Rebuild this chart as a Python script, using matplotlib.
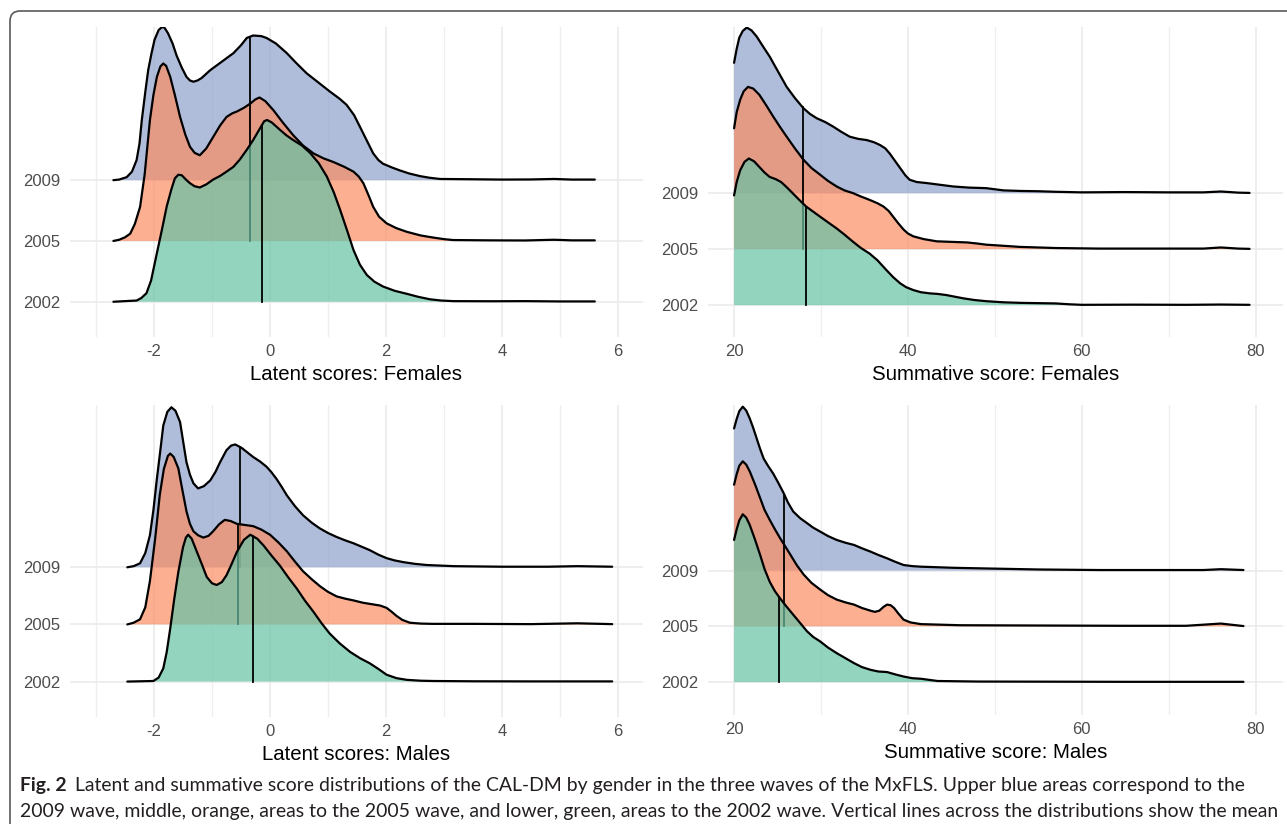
import matplotlib
matplotlib.use("Agg")
import matplotlib.pyplot as plt
import numpy as np
from matplotlib.patches import FancyBboxPatch

# waves shown in each panel, bottom to top
years = ["2002", "2005", "2009"]
fill_colors = ["#66C2A5", "#FC8D62", "#8DA0CB"]

# ---- Latent scores: Females (heights in ridge-row units) ----
lf_x09 = [-2.70, -2.60, -2.47, -2.38, -2.30, -2.25, -2.21, -2.15, -2.10, -2.04, -1.99, -1.92, -1.86, -1.82,
          -1.76, -1.68, -1.61, -1.52, -1.44, -1.38, -1.32, -1.25, -1.18, -1.03, -0.83, -0.63, -0.50, -0.40,
          -0.29, -0.15, -0.06, 0.10, 0.29, 0.45, 0.63, 0.83, 1.03, 1.20, 1.32, 1.45, 1.55, 1.67, 1.78, 1.87,
          1.95, 2.10, 2.24, 2.40, 2.59, 2.75, 2.93, 3.5, 4.0, 4.5, 4.9, 5.2, 5.6]
lf_h09 = [0, 0.01, 0.05, 0.14, 0.33, 0.60, 0.99, 1.45, 1.81, 2.10, 2.31, 2.47, 2.52, 2.51,
          2.42, 2.25, 2.05, 1.85, 1.70, 1.64, 1.62, 1.64, 1.68, 1.81, 1.95, 2.09, 2.22, 2.34,
          2.38, 2.37, 2.34, 2.25, 2.09, 1.93, 1.76, 1.61, 1.46, 1.34, 1.24, 1.07, 0.88, 0.65, 0.44, 0.33,
          0.27, 0.21, 0.16, 0.11, 0.066, 0.04, 0.02, 0.015, 0.01, 0.012, 0.02, 0.01, 0.01]
lf_x05 = [-2.70, -2.60, -2.50, -2.41, -2.33, -2.24, -2.16, -2.07, -2.01, -1.95, -1.89, -1.84, -1.79, -1.72,
          -1.64, -1.55, -1.46, -1.38, -1.30, -1.21, -1.10, -0.98, -0.86, -0.75, -0.65, -0.57, -0.45, -0.34,
          -0.25, -0.18, -0.08, 0.06, 0.22, 0.40, 0.57, 0.75, 0.92, 1.09, 1.28, 1.44, 1.53, 1.61, 1.70, 1.78,
          1.88, 2.01, 2.18, 2.36, 2.60, 2.82, 3.00, 3.16, 3.8, 4.4, 4.9, 5.2, 5.6]
lf_h05 = [0, 0.02, 0.06, 0.12, 0.28, 0.56, 1.10, 1.99, 2.40, 2.70, 2.87, 2.92, 2.88, 2.70,
          2.40, 2.04, 1.75, 1.55, 1.45, 1.41, 1.52, 1.71, 1.90, 2.04, 2.10, 2.13, 2.19, 2.26,
          2.33, 2.36, 2.30, 2.15, 1.95, 1.74, 1.57, 1.44, 1.36, 1.30, 1.22, 1.14, 1.06, 0.95, 0.75, 0.56,
          0.40, 0.29, 0.21, 0.15, 0.09, 0.055, 0.03, 0.015, 0.01, 0.008, 0.02, 0.01, 0.01]
lf_x02 = [-2.70, -2.30, -2.22, -2.13, -2.05, -1.95, -1.86, -1.78, -1.70, -1.64, -1.58, -1.52, -1.45, -1.38,
          -1.30, -1.21, -1.10, -0.98, -0.86, -0.75, -0.63, -0.52, -0.40, -0.29, -0.18, -0.10, -0.05, 0.03,
          0.17, 0.28, 0.40, 0.55, 0.69, 0.84, 0.98, 1.10, 1.21, 1.33, 1.44, 1.55, 1.67, 1.80, 1.95, 2.15,
          2.36, 2.56, 2.76, 2.95, 3.16, 3.8, 4.4, 5.0, 5.6]
lf_h02 = [0, 0.02, 0.06, 0.14, 0.35, 0.80, 1.20, 1.57, 1.85, 2.03, 2.09, 2.08, 2.01, 1.95,
          1.90, 1.88, 1.93, 2.01, 2.07, 2.14, 2.22, 2.34, 2.50, 2.66, 2.84, 2.97, 2.99, 2.95,
          2.83, 2.74, 2.66, 2.57, 2.45, 2.28, 2.06, 1.80, 1.51, 1.17, 0.85, 0.61, 0.44, 0.33, 0.25, 0.18,
          0.13, 0.08, 0.04, 0.02, 0.01, 0.008, 0.01, 0.005, 0.005]
lf_means = [-0.14, -0.35, -0.34]

# ---- Summative score: Females ----
sf_x09 = [20, 20.3, 20.6, 21.0, 21.46, 22.0, 22.6, 23.3, 24.1, 25.0, 26.05, 27.0, 27.97, 28.7, 29.5, 30.5,
          31.4, 32.3, 33.3, 34.3, 35.25, 36.1, 36.8, 37.4, 37.9, 38.5, 39.1, 39.7, 40.2, 41.0, 42.2, 43.7,
          45.2, 47, 49.0, 50, 51.0, 53, 55, 57, 60, 65, 70, 74, 76, 78, 79.3]
sf_h09 = [2.33, 2.58, 2.78, 2.90, 2.96, 2.91, 2.80, 2.63, 2.44, 2.19, 1.90, 1.70, 1.52, 1.42, 1.34, 1.27,
          1.19, 1.10, 1.01, 0.97, 0.95, 0.91, 0.86, 0.80, 0.71, 0.58, 0.45, 0.32, 0.24, 0.20, 0.18, 0.15,
          0.12, 0.10, 0.09, 0.07, 0.05, 0.04, 0.035, 0.025, 0.015, 0.02, 0.015, 0.015, 0.03, 0.01, 0.005]
sf_x05 = [20, 20.3, 20.7, 21.1, 21.6, 22.2, 22.9, 23.7, 24.5, 25.3, 26.05, 27.0, 27.97, 28.9, 29.9, 30.8,
          31.8, 32.7, 33.7, 34.6, 35.6, 36.5, 37.2, 37.8, 38.3, 38.9, 39.5, 40.0, 40.6, 41.8, 43.3, 45,
          46.8, 48, 49.0, 51, 52.9, 55, 57, 62, 68, 74, 76, 78, 79.3]
sf_h05 = [2.16, 2.45, 2.67, 2.82, 2.90, 2.87, 2.76, 2.57, 2.37, 2.18, 2.01, 1.80, 1.60, 1.45, 1.33, 1.22,
          1.12, 1.05, 1.0, 0.94, 0.88, 0.82, 0.76, 0.68, 0.58, 0.46, 0.35, 0.28, 0.23, 0.18, 0.14, 0.13,
          0.12, 0.10, 0.08, 0.06, 0.04, 0.03, 0.02, 0.01, 0.01, 0.01, 0.03, 0.01, 0.005]
sf_x02 = [20, 20.3, 20.7, 21.2, 21.7, 22.3, 22.9, 23.5, 24.1, 24.8, 25.4, 26.1, 26.8, 27.5, 28.3, 29.1,
          29.9, 30.8, 31.8, 32.7, 33.7, 34.6, 35.6, 36.5, 37.5, 38.3, 39.1, 39.8, 40.6, 41.5, 42.5, 43.4,
          44.4, 45.4, 46.4, 47.7, 49.0, 51, 53, 55, 57, 58.5, 60, 66, 72, 76, 79.3]
sf_h02 = [1.96, 2.20, 2.41, 2.56, 2.62, 2.57, 2.47, 2.37, 2.29, 2.25, 2.20, 2.10, 1.99, 1.88, 1.76, 1.67,
          1.58, 1.48, 1.37, 1.26, 1.13, 1.02, 0.92, 0.80, 0.63, 0.50, 0.39, 0.32, 0.27, 0.23, 0.21, 0.20,
          0.18, 0.15, 0.12, 0.09, 0.07, 0.05, 0.04, 0.035, 0.03, 0.015, 0.005, 0.008, 0.005, 0.01, 0.005]
sf_means = [28.3, 27.9, 27.9]

# ---- Latent scores: Males ----
lm_x09 = [-2.46, -2.35, -2.24, -2.15, -2.07, -2.01, -1.95, -1.89, -1.84, -1.77, -1.70, -1.63, -1.55, -1.50,
          -1.44, -1.38, -1.32, -1.24, -1.14, -1.03, -0.94, -0.86, -0.75, -0.67, -0.60, -0.49, -0.39, -0.29,
          -0.17, -0.06, 0.02, 0.11, 0.20, 0.29, 0.43, 0.57, 0.72, 0.86, 1.00, 1.15, 1.30, 1.44, 1.58, 1.72,
          1.87, 2.01, 2.15, 2.30, 2.50, 2.70, 2.93, 3.16, 4.0, 4.8, 5.3, 5.9]
lm_h09 = [0, 0.02, 0.07, 0.25, 0.56, 1.00, 1.55, 2.05, 2.48, 2.72, 2.80, 2.74, 2.54, 2.22,
          1.84, 1.62, 1.47, 1.38, 1.42, 1.52, 1.67, 1.84, 2.05, 2.13, 2.15, 2.09, 2.01, 1.93,
          1.85, 1.76, 1.67, 1.55, 1.41, 1.26, 1.07, 0.91, 0.78, 0.68, 0.60, 0.53, 0.47, 0.42, 0.36, 0.30,
          0.22, 0.16, 0.12, 0.09, 0.06, 0.04, 0.03, 0.02, 0.01, 0.01, 0.02, 0.01]
lm_x05 = [-2.46, -2.35, -2.24, -2.15, -2.07, -1.98, -1.90, -1.83, -1.76, -1.72, -1.66, -1.58, -1.51, -1.44,
          -1.38, -1.32, -1.24, -1.15, -1.06, -0.98, -0.88, -0.78, -0.68, -0.57, -0.43, -0.29, -0.15, 0,
          0.15, 0.29, 0.43, 0.57, 0.72, 0.86, 1.00, 1.15, 1.30, 1.44, 1.60, 1.78, 1.90, 2.01, 2.10, 2.18,
          2.28, 2.41, 2.6, 2.8, 3.5, 4.5, 5.3, 5.9]
lm_h05 = [0, 0.03, 0.09, 0.30, 0.76, 1.50, 2.27, 2.72, 2.95, 2.99, 2.93, 2.73, 2.35, 1.98,
          1.76, 1.63, 1.56, 1.52, 1.55, 1.63, 1.75, 1.83, 1.81, 1.76, 1.74, 1.72, 1.66, 1.57,
          1.43, 1.28, 1.10, 0.93, 0.79, 0.67, 0.57, 0.49, 0.45, 0.42, 0.38, 0.35, 0.33, 0.29, 0.22, 0.15,
          0.08, 0.03, 0.015, 0.01, 0.01, 0.005, 0.02, 0.005]
lm_x02 = [-2.46, -2.01, -1.92, -1.84, -1.78, -1.72, -1.65, -1.58, -1.50, -1.45, -1.41, -1.35, -1.26, -1.17,
          -1.09, -1.00, -0.92, -0.83, -0.75, -0.66, -0.57, -0.45, -0.34, -0.22, -0.11, 0.03, 0.17, 0.31,
          0.46, 0.60, 0.75, 0.89, 1.03, 1.20, 1.38, 1.55, 1.72, 1.87, 2.01, 2.18, 2.36, 2.6, 2.82, 3.5,
          4.5, 5.9]
lm_h02 = [0, 0.01, 0.07, 0.23, 0.52, 0.93, 1.45, 1.92, 2.35, 2.52, 2.57, 2.50, 2.27, 2.04,
          1.83, 1.72, 1.69, 1.74, 1.86, 2.06, 2.27, 2.48, 2.57, 2.50, 2.38, 2.20, 2.03, 1.83,
          1.63, 1.42, 1.22, 1.02, 0.84, 0.67, 0.52, 0.41, 0.32, 0.22, 0.12, 0.06, 0.03, 0.015, 0.01, 0.005,
          0.003, 0.003]
lm_means = [-0.30, -0.56, -0.51]

# ---- Summative score: Males ----
sm_x09 = [20, 20.3, 20.6, 21.0, 21.4, 21.8, 22.2, 22.6, 23.0, 23.4, 23.9, 24.5, 25.1, 25.7, 26.2, 26.8,
          27.6, 28.4, 29.1, 29.9, 30.8, 31.8, 32.8, 33.8, 34.7, 35.7, 36.6, 37.6, 38.5, 39.5, 40.5, 41.5,
          45.3, 48.4, 55, 62, 70, 74, 76, 78.6]
sm_h09 = [2.55, 2.72, 2.86, 2.94, 2.87, 2.73, 2.56, 2.37, 2.18, 2.01, 1.88, 1.74, 1.57, 1.39, 1.22, 1.06,
          0.94, 0.85, 0.77, 0.70, 0.62, 0.55, 0.50, 0.46, 0.40, 0.34, 0.28, 0.22, 0.16, 0.10, 0.08, 0.07,
          0.05, 0.04, 0.02, 0.01, 0.01, 0.01, 0.025, 0.01]
sm_x05 = [20, 20.3, 20.6, 21.0, 21.4, 21.8, 22.4, 23.0, 23.5, 24.1, 24.7, 25.3, 25.9, 26.5, 27.2, 28.0,
          28.9, 29.9, 30.8, 31.8, 32.8, 33.8, 34.7, 35.7, 36.2, 36.7, 37.2, 37.6, 38.0, 38.4, 38.9, 39.5,
          40.3, 41.5, 46, 55, 65, 72, 76, 78.6]
sm_h05 = [2.54, 2.73, 2.88, 2.96, 2.90, 2.78, 2.55, 2.30, 2.09, 1.91, 1.74, 1.58, 1.43, 1.28, 1.10, 0.93,
          0.78, 0.66, 0.56, 0.48, 0.43, 0.39, 0.33, 0.28, 0.26, 0.28, 0.35, 0.39, 0.38, 0.33, 0.23, 0.12,
          0.07, 0.04, 0.02, 0.015, 0.01, 0.01, 0.05, 0.005]
sm_x02 = [20, 20.3, 20.6, 21.0, 21.4, 21.8, 22.4, 23.0, 23.5, 24.1, 24.7, 25.3, 26.0, 26.8, 27.6, 28.4,
          29.1, 29.9, 30.8, 31.8, 32.8, 33.8, 34.7, 35.7, 36.6, 37.6, 38.5, 39.5, 40.5, 41.5, 43.4, 48,
          55, 65, 78.6]
sm_h02 = [2.55, 2.74, 2.90, 3.01, 2.95, 2.82, 2.56, 2.28, 2.03, 1.80, 1.63, 1.50, 1.36, 1.21, 1.06, 0.91,
          0.81, 0.73, 0.62, 0.52, 0.43, 0.34, 0.27, 0.22, 0.19, 0.18, 0.14, 0.10, 0.07, 0.06, 0.02, 0.01,
          0.008, 0.005, 0.005]
sm_means = [25.2, 25.8, 25.8]

latent_ticks = [-2, 0, 2, 4, 6]
latent_minor = [-3, -1, 1, 3, 5]
summ_ticks = [20, 40, 60, 80]
summ_minor = [30, 50, 70]

caption_1 = ("Latent and summative score distributions of the CAL-DM by gender in the three waves of the MxFLS. "
             "Upper blue areas correspond to the")
caption_2 = ("2009 wave, middle, orange, areas to the 2005 wave, and lower, green, areas to the 2002 wave. "
             "Vertical lines across the distributions show the mean")

panels = [
    # data, means, xlabel, ticks, minor, xlim, ylim, rect (px: left, top, right, bottom)
    ([(lf_x02, lf_h02), (lf_x05, lf_h05), (lf_x09, lf_h09)], lf_means, "Latent scores: Females",
     latent_ticks, latent_minor, (-3.448, 6.431), (0.42, 5.52), (70, 27, 643, 337)),
    ([(sf_x02, sf_h02), (sf_x05, sf_h05), (sf_x09, sf_h09)], sf_means, "Summative score: Females",
     summ_ticks, summ_minor, (17.0, 83.15), (0.43, 5.97), (708, 27, 1283, 337)),
    ([(lm_x02, lm_h02), (lm_x05, lm_h05), (lm_x09, lm_h09)], lm_means, "Latent scores: Males",
     latent_ticks, latent_minor, (-3.448, 6.431), (0.38, 5.84), (70, 405, 643, 717)),
    ([(sm_x02, sm_h02), (sm_x05, sm_h05), (sm_x09, sm_h09)], sm_means, "Summative score: Males",
     summ_ticks, summ_minor, (17.0, 83.15), (0.41, 5.97), (708, 405, 1283, 715)),
]

W, H = 1287, 824
fig = plt.figure(figsize=(W / 100, H / 100), dpi=100)
fig.patch.set_facecolor("white")

for ridges, means, xlabel, ticks, minor, xlim, ylim, rect in panels:
    l, t, r, b = rect
    ax = fig.add_axes([l / W, 1 - b / H, (r - l) / W, (b - t) / H])
    ax.set_xlim(*xlim)
    ax.set_ylim(*ylim)
    for s in ax.spines.values():
        s.set_visible(False)
    for v in minor:
        ax.axvline(v, color="#EFEFEF", lw=0.9, zorder=0)
    for v in ticks:
        ax.axvline(v, color="#EBEBEB", lw=1.2, zorder=0)
    for k in range(len(years)):
        ax.axhline(k + 1, color="#EBEBEB", lw=1.2, zorder=0)

    # draw top ridge first so lower ridges overlap it
    for k in [2, 1, 0]:
        xs = np.array(ridges[k][0])
        hs = np.array(ridges[k][1])
        base = k + 1
        z = 3 + (2 - k)
        ax.fill_between(xs, base, base + hs, facecolor=fill_colors[k], alpha=0.7, lw=0, zorder=z)
        mh = np.interp(means[k], xs, hs)
        ax.plot([means[k], means[k]], [base, base + mh], color="black", lw=1.3, zorder=z)
        ax.plot(xs, base + hs, color="black", lw=1.6, zorder=z, solid_joinstyle="round",
                solid_capstyle="round")

    ax.set_xticks(ticks)
    ax.set_xticklabels([str(v) for v in ticks])
    ax.set_yticks([1, 2, 3])
    ax.set_yticklabels(years)
    ax.tick_params(length=0, labelsize=12, labelcolor="#4D4D4D", pad=5)
    ax.tick_params(axis="y", pad=7)
    for lab in ax.get_xticklabels() + ax.get_yticklabels():
        lab.set_family("Liberation Sans")
    ax.set_xlabel(xlabel, fontsize=14.7, family="Liberation Sans", color="black", labelpad=4)

# rounded frame around the figure
frame = FancyBboxPatch((0.10, -0.5), 14.0, (H - 11) / 100 + 0.5,
                       boxstyle="round,pad=0,rounding_size=0.1",
                       transform=fig.dpi_scale_trans, facecolor="none",
                       edgecolor="#5A5A5A", lw=1.2, clip_on=False)
fig.add_artist(frame)

# caption, sized to span the frame width
cap_font = "Lato"
fs = 13
t2 = fig.text(20 / W, 1 - 812 / H, caption_2, fontsize=fs, family=cap_font, color="#231F20", va="center")
fig.canvas.draw()
renderer = fig.canvas.get_renderer()
w2 = t2.get_window_extent(renderer).width
fs = fs * (1253 / w2)
t2.set_fontsize(fs)

fig_lab = fig.text(20 / W, 1 - 785 / H, "Fig. 2", fontsize=fs, family=cap_font, weight="bold",
                   color="#231F20", va="center")
fig.canvas.draw()
wb = fig_lab.get_window_extent(renderer).width
fig.text((20 + wb + 8) / W, 1 - 785 / H, caption_1, fontsize=fs, family=cap_font,
         color="#231F20", va="center")

fig.savefig("out.png", dpi=100)
